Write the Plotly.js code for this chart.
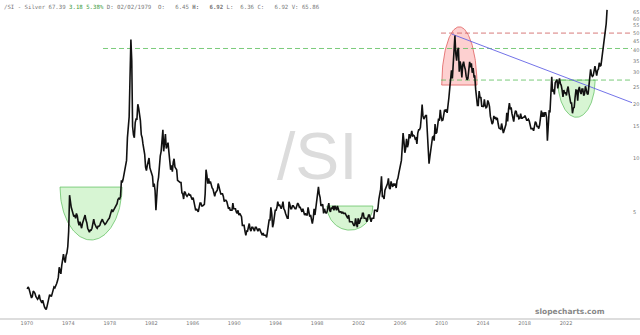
<!DOCTYPE html>
<html><head><meta charset="utf-8">
<script src="https://cdn.plot.ly/plotly-3.0.1.min.js"></script>
<style>html,body{margin:0;padding:0;background:#fff}#chart{width:640px;height:335px}</style>
</head><body><div id="chart"></div>
<script>
// Monthly closes of /SI (Silver) (log scale)
const silver1970s = [
1.85,1.90,1.87,1.80,1.70,1.65,1.68,1.80,1.78,1.75,1.68,1.64,
1.62,1.65,1.72,1.62,1.58,1.55,1.60,1.52,1.47,1.44,1.42,1.48,
1.55,1.65,1.72,1.70,1.68,1.75,1.82,1.90,1.88,1.92,1.98,2.05,
2.15,2.45,2.30,2.25,2.50,2.75,2.90,2.70,2.60,2.85,2.95,3.20,
3.90,6.20,5.60,5.30,5.10,4.80,4.70,4.80,4.60,4.90,4.75,4.40,
4.20,4.40,4.10,4.05,4.30,4.45,4.65,4.80,4.50,4.35,4.05,3.95,
3.85,3.95,3.95,4.05,4.40,4.55,4.30,4.15,4.10,4.05,4.15,4.15,
4.20,4.35,4.45,4.55,4.40,4.30,4.25,4.30,4.40,4.45,4.55,4.60,
4.75,4.95,5.15,5.00,5.10,5.25,5.30,5.40,5.55,5.85,5.95,5.90,
6.10,7.50,7.30,7.60,8.20,8.80,9.10,9.70,13.0,16.0,17.0,28.0];
const silver1980s = [
46.0,35.0,15.0,13.5,13.0,15.8,16.5,16.5,20.0,19.0,17.5,16.2,
13.5,13.0,12.0,11.3,10.5,8.90,8.50,9.10,9.90,10.0,8.80,8.30,
8.20,7.90,6.90,7.20,6.60,5.10,6.50,7.30,7.80,9.90,10.3,10.9,
13.5,14.4,10.9,12.4,13.6,11.3,11.8,12.2,10.8,9.40,8.60,9.10,
8.40,9.50,9.90,8.90,8.80,8.60,7.50,7.40,7.40,7.30,7.30,6.40,
6.30,5.90,6.50,6.40,6.20,6.10,6.20,6.30,6.20,6.20,6.00,5.85,
6.00,5.70,5.40,5.10,5.20,5.10,5.00,5.30,5.60,5.60,5.40,5.40,
5.50,5.50,6.30,8.60,8.00,7.20,7.70,7.20,7.40,7.00,6.80,6.70,
6.40,6.10,6.40,6.50,6.60,7.20,6.90,6.60,6.30,6.30,6.30,6.10,
5.70,5.80,5.80,5.70,5.40,5.20,5.30,5.10,5.10,5.10,5.60,5.20];
const silver1990s = [
5.20,5.20,5.00,4.90,5.10,4.80,4.90,4.80,4.70,4.20,4.20,4.20,
3.90,3.70,3.90,3.90,4.10,4.30,4.00,3.90,4.10,4.10,4.00,3.90,
4.10,4.10,4.00,3.90,4.00,4.00,3.90,3.80,3.70,3.80,3.70,3.70,
3.70,3.60,3.90,4.40,4.50,4.50,5.30,4.90,4.10,4.30,4.60,5.10,
5.10,5.30,5.70,5.40,5.50,5.30,5.20,5.40,5.70,5.20,5.10,4.90,
4.70,4.60,4.60,5.70,5.50,5.20,5.20,5.40,5.40,5.30,5.20,5.20,
5.50,5.60,5.50,5.30,5.30,5.10,5.00,5.20,4.90,4.80,4.90,4.80,
4.80,5.30,5.00,4.70,4.80,4.60,4.30,4.60,5.20,4.80,5.20,6.00,
6.30,6.90,6.30,6.00,5.40,5.50,5.50,4.90,5.20,5.00,4.90,5.00,
5.40,5.60,5.10,5.00,5.30,5.20,5.40,5.10,5.40,5.30,5.10,5.40];
const silver2000s = [
5.20,5.00,5.00,5.00,4.90,5.00,4.90,4.90,4.90,4.80,4.70,4.60,
4.80,4.40,4.40,4.40,4.40,4.30,4.20,4.20,4.60,4.30,4.10,4.60,
4.30,4.40,4.60,4.60,4.90,4.90,4.60,4.60,4.60,4.40,4.60,4.80,
4.80,4.60,4.40,4.60,4.60,4.60,5.10,5.10,5.10,5.00,5.30,5.90,
6.30,6.70,7.90,6.10,6.10,5.90,6.60,6.80,6.90,7.20,7.70,6.80,
6.70,7.40,7.10,6.90,7.20,7.00,7.20,6.80,7.50,7.70,8.20,8.80,
9.60,9.70,11.4,13.8,12.4,10.7,11.3,12.8,11.5,12.0,13.6,12.9,
13.4,14.2,13.3,13.4,13.3,12.8,12.9,12.0,13.8,14.4,14.4,14.8,
16.8,19.9,17.2,16.5,16.9,17.3,17.3,13.4,12.9,9.30,10.2,11.3,
12.7,13.1,13.2,12.5,15.5,13.7,13.9,14.9,16.6,16.2,18.6,16.9];
const silver2010s = [
16.2,16.3,17.5,18.6,18.4,18.7,17.9,19.3,21.8,24.6,28.3,30.9,
27.9,33.8,37.9,48.5,38.3,35.0,39.9,41.4,30.4,34.7,32.7,28.2,
33.2,34.6,32.5,31.3,28.6,27.4,27.9,31.5,34.5,32.2,33.9,30.0,
31.9,28.5,28.6,24.2,22.3,19.7,19.7,23.7,21.7,21.9,19.5,19.5,
19.3,21.3,19.7,19.1,19.3,21.0,20.4,19.4,17.1,16.2,15.5,15.8,
17.2,16.6,17.0,16.3,16.8,15.6,14.7,14.6,14.5,15.6,14.1,13.8,
14.3,15.0,15.4,17.9,16.0,18.7,20.3,18.7,19.2,17.7,16.5,16.0,
17.5,18.4,18.2,17.2,17.3,16.6,16.7,17.7,16.7,16.7,16.9,16.9,
17.3,16.5,16.3,16.3,16.5,16.1,15.5,14.6,14.6,14.6,14.2,15.5,
16.0,15.7,15.0,15.0,14.6,15.3,16.4,18.4,17.0,18.0,17.0,17.9];
const silver2020s = [
17.9,16.9,12.5,15.0,18.3,18.2,24.2,28.5,23.5,24.2,22.7,26.4,
26.9,27.5,24.5,26.0,27.9,26.1,25.5,24.0,22.0,24.0,23.0,23.3,
22.4,24.2,25.1,23.0,21.7,20.3,20.3,17.8,19.0,19.2,21.8,24.0,
23.9,20.9,24.0,25.0,23.5,22.8,24.3,24.3,22.3,22.9,25.2,23.8,
22.9,22.7,24.9,26.4,31.3,29.2,28.6,28.9,31.1,32.7,30.6,28.9,
30.9,31.5,34.1,32.6,33.0,36.1,36.6,40.7,46.6,48.7,56.4,67.39];

const decadeStarts = [1970,1980,1990,2000,2010,2020];
const decadeSeries = [silver1970s,silver1980s,silver1990s,silver2000s,silver2010s,silver2020s];

const tickYears = [1970,1974,1978,1982,1986,1990,1994,1998,2002,2006,2010,2014,2018,2022];
const priceTicks = [5,10,15,20,25,30,35,40,45,50,55,60,65];

// annotation overlays (in data units: decimal years, prices)
const cupStart  = [1973.20, 1998.94, 2010.01, 2021.20];
const cupEnd    = [1979.18, 2003.37, 2013.41, 2024.80];
const cupTop    = [6.88, 5.39, 54.2, 27.3];
const cupBottom = [3.48, 3.95, 25.6, 16.9];
const cupArch   = [false, false, true, false];
const levelStart = [2009.94, 1977.35, 2009.94];
const levelValue = [50, 41, 27.3];
const levelColor = ['rgba(205,90,90,0.8)','rgba(90,190,90,0.8)','rgba(90,190,90,0.8)'];
const trendYears = [2010.97, 2028.95];
const trendValues = [49.4, 19.8];
const xStart = 1967.416, xEnd = 2028.36;

function yearToDate(t){
  const y=Math.floor(t); const a=Date.UTC(y,0,1), b=Date.UTC(y+1,0,1);
  const d=new Date(a+(t-y)*(b-a));
  return d.toISOString().slice(0,19).replace('T',' ');
}
const dates=[], prices=[];
decadeSeries.forEach((arr,k)=>arr.forEach((v,i)=>{
  const y=decadeStarts[k]+Math.floor(i/12), m=i%12;
  dates.push(y+'-'+String(m+1).padStart(2,'0')+'-15'); prices.push(v);
}));

const traces=[];
cupStart.forEach((x0,k)=>{
  const x1=cupEnd[k], lt=Math.log10(cupTop[k]), lb=Math.log10(cupBottom[k]);
  const xm=(x0+x1)/2, rx=(x1-x0)/2, xs=[], ys=[];
  for(let i=0;i<=80;i++){
    const th=Math.PI*i/80, x=xm-rx*Math.cos(th);
    const ly = cupArch[k] ? lb+(lt-lb)*Math.sin(th) : lt-(lt-lb)*Math.sin(th);
    xs.push(yearToDate(x)); ys.push(Math.pow(10,ly));
  }
  xs.push(xs[0]); ys.push(ys[0]);
  const red=cupArch[k];
  traces.push({x:xs,y:ys,type:'scatter',mode:'lines',fill:'toself',hoverinfo:'skip',
    fillcolor: red?'rgba(250,150,150,0.45)':'rgba(150,230,140,0.38)',
    line:{color: red?'rgba(220,80,80,0.9)':'rgba(90,190,90,0.9)',width:0.8}});
});
levelValue.forEach((v,k)=>{
  traces.push({x:[yearToDate(levelStart[k]),yearToDate(xEnd)],y:[v,v],type:'scatter',mode:'lines',
    hoverinfo:'skip',line:{color:levelColor[k],width:1,dash:'5px,3px'}});
});
traces.push({x:trendYears.map(yearToDate),y:trendValues,type:'scatter',mode:'lines',hoverinfo:'skip',
  line:{color:'rgba(100,100,230,0.9)',width:1}});
traces.push({x:dates,y:prices,type:'scatter',mode:'lines',line:{color:'#111',width:1.6},name:'/SI'});

const nb='\u00A0';
const header = '/SI - Silver 67.39 <span style="color:#3a9a3a">3.18 5.38%</span> D: 02/02/1979'+nb+nb+'O:'+nb+nb+nb+'6.45 <b>H:</b>'+nb+nb+nb+'<b>6.92</b> L:'+nb+nb+'6.36 C:'+nb+nb+nb+'6.92 V: 65.86';

const layout={
  width:640,height:335,margin:{l:0,r:8,t:0,b:16},
  paper_bgcolor:'#fff',plot_bgcolor:'#fff',showlegend:false,
  xaxis:{type:'date',range:[yearToDate(xStart),yearToDate(xEnd)],
    tickvals:tickYears.map(y=>y+'-01-01'),ticktext:tickYears.map(String),
    tickfont:{family:'DejaVu Sans',size:5,color:'#777'},showgrid:false,zeroline:false,showline:false,ticks:''},
  yaxis:{type:'log',range:[0.0996,1.884],side:'right',tickvals:priceTicks,ticktext:priceTicks.map(String),
    tickfont:{family:'DejaVu Sans',size:5,color:'#777'},showgrid:false,zeroline:false,showline:false,ticks:''},
  shapes:[{type:'line',xref:'paper',yref:'paper',x0:0,x1:1.013,y0:0,y1:0,line:{color:'#bbb',width:1}}],
  annotations:[
    {xref:'paper',yref:'paper',x:0,y:1,xanchor:'left',yanchor:'top',xshift:2,yshift:-2,showarrow:false,
     text:header,font:{family:'DejaVu Sans Mono',size:5.7,color:'#777'}},
    {xref:'paper',yref:'paper',x:0.503,y:0.511,xanchor:'center',yanchor:'middle',showarrow:false,
     text:'/SI',font:{family:'Liberation Sans',size:66,color:'#dcdcdc'}},
    {xref:'paper',yref:'paper',x:0.961,y:0.025,xanchor:'right',yanchor:'middle',showarrow:false,
     text:'<b>slopecharts.com</b>',font:{family:'DejaVu Sans',size:7.5,color:'#888'}}
  ]
};
Plotly.newPlot('chart',traces,layout,{displayModeBar:false,staticPlot:true});
</script></body></html>
